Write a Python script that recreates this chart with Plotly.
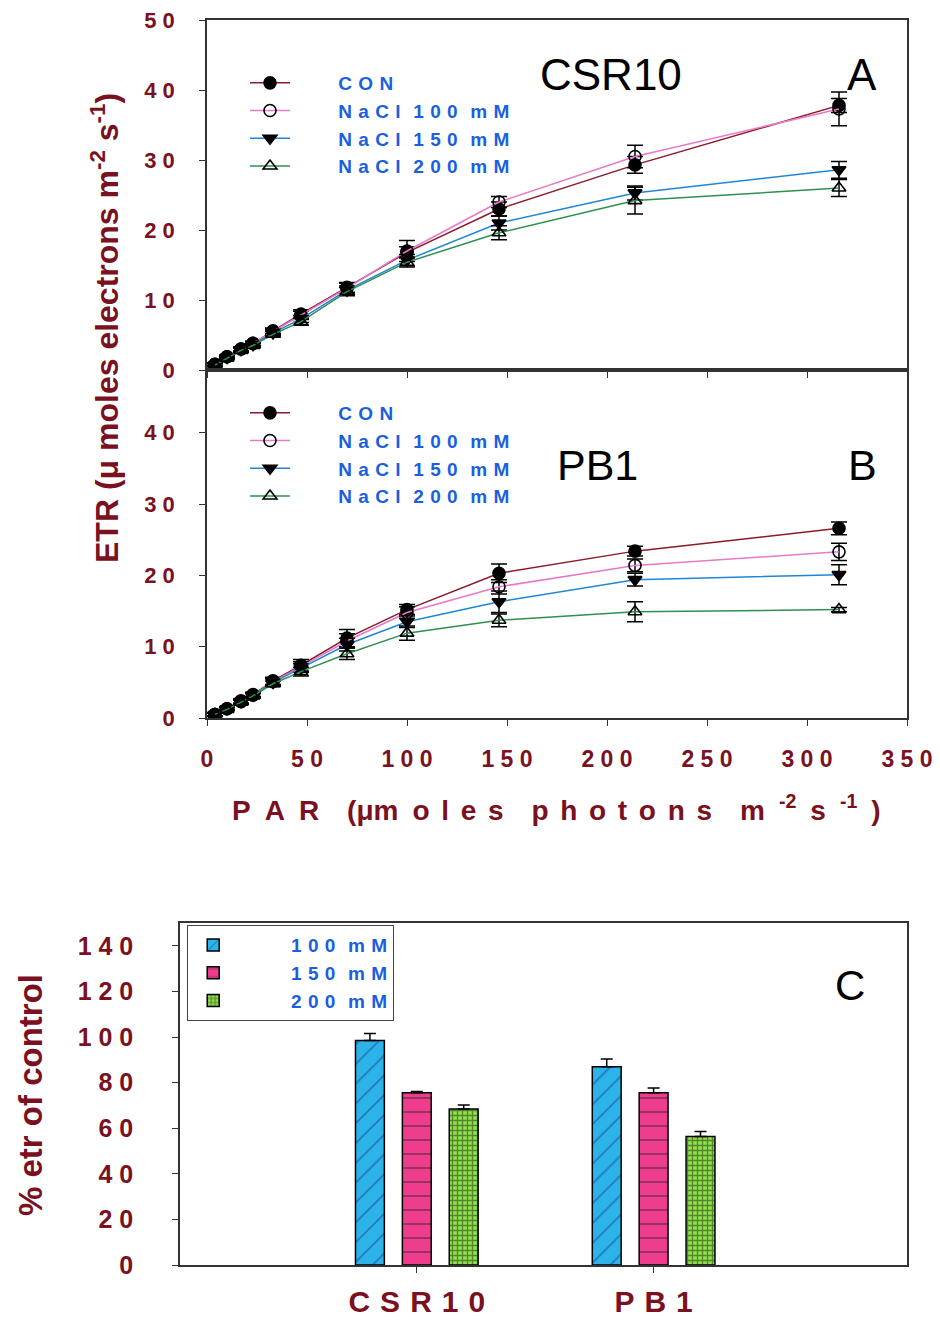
import plotly.graph_objects as go

# ---------------- data ----------------
PAR = [4, 10, 17, 23, 33, 47, 70, 100, 146, 214, 316]

series_names = ["CON", "NaCl 100 mM", "NaCl 150 mM", "NaCl 200 mM"]

A_con = [0.8, 1.9, 3.0, 3.8, 5.6, 8.0, 11.8, 16.8, 23.0, 29.3, 37.8]
A_100 = [0.8, 1.9, 3.0, 3.8, 5.5, 7.8, 11.7, 17.0, 24.0, 30.5, 37.3]
A_150 = [0.7, 1.8, 2.9, 3.6, 5.3, 7.3, 11.4, 15.7, 21.0, 25.3, 28.6]
A_200 = [0.7, 1.7, 2.8, 3.5, 5.1, 6.9, 11.2, 15.4, 19.6, 24.2, 26.0]
A_con_err = [0.2, 0.2, 0.3, 0.3, 0.4, 0.6, 0.7, 0.8, 1.0, 1.2, 1.0]
A_100_err = [0.2, 0.2, 0.3, 0.3, 0.4, 0.6, 0.7, 1.5, 0.8, 1.6, 2.4]
A_150_err = [0.2, 0.2, 0.3, 0.3, 0.4, 0.5, 0.6, 0.8, 1.0, 1.0, 1.2]
A_200_err = [0.2, 0.2, 0.3, 0.3, 0.4, 0.5, 0.6, 0.7, 1.0, 1.9, 1.2]

B_con = [0.5, 1.3, 2.4, 3.3, 5.2, 7.4, 11.2, 15.2, 20.3, 23.4, 26.6]
B_100 = [0.5, 1.3, 2.3, 3.2, 5.1, 7.2, 10.8, 14.8, 18.4, 21.4, 23.3]
B_150 = [0.5, 1.3, 2.3, 3.2, 5.0, 7.0, 10.3, 13.5, 16.3, 19.4, 20.1]
B_200 = [0.5, 1.2, 2.2, 3.1, 4.8, 6.5, 9.0, 11.9, 13.7, 14.9, 15.2]
B_con_err = [0.2, 0.2, 0.3, 0.3, 0.5, 0.8, 1.2, 0.7, 1.3, 0.7, 0.9]
B_100_err = [0.2, 0.2, 0.3, 0.3, 0.5, 0.7, 1.0, 0.8, 1.0, 0.9, 1.2]
B_150_err = [0.2, 0.2, 0.3, 0.3, 0.5, 0.6, 0.9, 0.8, 1.5, 0.9, 1.4]
B_200_err = [0.2, 0.2, 0.3, 0.3, 0.4, 0.6, 0.8, 1.0, 0.9, 1.4, 0.3]

cultivars = ["CSR10", "PB1"]
bar_names = ["100 mM", "150 mM", "200 mM"]
pct_100 = [98.5, 87.0]
pct_150 = [75.6, 75.6]
pct_200 = [68.4, 56.4]
pct_100_err = [3.0, 3.3]
pct_150_err = [0.5, 2.0]
pct_200_err = [1.8, 2.2]

x_tickvals = [0, 50, 100, 150, 200, 250, 300, 350]
yA_tickvals = [0, 10, 20, 30, 40, 50]
yB_tickvals = [0, 10, 20, 30, 40]
yC_tickvals = [0, 20, 40, 60, 80, 100, 120, 140]

# ---------------- styles ----------------
FONT = "Liberation Sans, Arial, sans-serif"
MAROON = "#7a1020"
BLUE = "#1a5fe0"
line_colors = ["#8b1a2a", "#e878c8", "#1f86d6", "#2e9050"]
symbols = ["circle", "circle-open", "triangle-down", "triangle-up-open"]
EN = "\u2002"
T3 = "\u2004"
HAIR = "\u200a"


def spaced(s, sep=" "):
    """Letter-spaced look of the original figure: 'NaCl 100' -> 'N a C l  1 0 0'."""
    words = s.split(" ")
    return (sep + sep).join(sep.join(w) for w in words)


def tick_spaced(v):
    return " ".join(str(v))


fig = go.Figure()


def add_panel(xa, ya, legend, ys, errs):
    for i, (y, e) in enumerate(zip(ys, errs)):
        fig.add_trace(go.Scatter(
            x=PAR, y=y, name=EN * 4 + "\u00a0" + spaced(series_names[i], T3),
            mode="lines+markers", xaxis=xa, yaxis=ya, legend=legend,
            line=dict(color=line_colors[i], width=1.5),
            marker=dict(symbol=symbols[i], size=12, color="black",
                        line=dict(color="black", width=1.6)),
            error_y=dict(type="data", array=e, color="black", thickness=1.5, width=8),
        ))


add_panel("x", "y", "legend", [A_con, A_100, A_150, A_200],
          [A_con_err, A_100_err, A_150_err, A_200_err])
add_panel("x2", "y2", "legend2", [B_con, B_100, B_150, B_200],
          [B_con_err, B_100_err, B_150_err, B_200_err])

bar_colors = ["#2bb3ea", "#ef3d8e", "#8fe04a"]
patterns = [
    dict(shape="/", fgcolor="#1a3d80", bgcolor="#2bb3ea", size=14, solidity=0.12),
    dict(shape="-", fgcolor="#222222", bgcolor="#ef3d8e", size=14, solidity=0.12),
    dict(shape="+", fgcolor="#1a2a10", bgcolor="#8fe04a", size=5, solidity=0.45),
]
for name, vals, errs, col, pat in zip(bar_names, [pct_100, pct_150, pct_200],
                                      [pct_100_err, pct_150_err, pct_200_err],
                                      bar_colors, patterns):
    fig.add_trace(go.Bar(
        x=cultivars, y=vals, name=EN * 5 + "\u00a0" + spaced(name, T3),
        xaxis="x3", yaxis="y3", legend="legend3",
        marker=dict(color=col, pattern=pat, line=dict(color="black", width=1.5)),
        error_y=dict(type="data", array=errs, symmetric=False, arrayminus=[0, 0],
                     color="black", thickness=1.5, width=6),
    ))

tickfont = dict(family=FONT, size=22, color=MAROON, weight="bold")
common_axis = dict(showline=True, linecolor="#333333", linewidth=1.5, mirror=True,
                   ticks="outside", ticklen=6, tickcolor="#333333", tickwidth=1.2,
                   showgrid=False, zeroline=False, tickfont=tickfont, automargin=False)

H = 1320.0
W = 940.0
xdom = [207 / W, 907 / W]
legfont = dict(family=FONT, size=19, color=BLUE, weight="bold")
fig.update_layout(
    width=940, height=1320,
    margin=dict(l=0, r=0, t=0, b=0, pad=0, autoexpand=False),
    paper_bgcolor="white", plot_bgcolor="white",
    font=dict(family=FONT),
    barmode="group", bargap=0.406, bargroupgap=0.384,
    xaxis=dict(domain=xdom, anchor="y", range=[0, 350], tickvals=x_tickvals,
               showticklabels=False, **common_axis),
    yaxis=dict(domain=[1 - 370 / H, 1 - 20 / H], anchor="x", range=[0, 50],
               tickvals=yA_tickvals, ticktext=[tick_spaced(v) for v in yA_tickvals],
               ticklabelstandoff=20, **common_axis),
    xaxis2=dict(domain=xdom, anchor="y2", range=[0, 350], tickvals=x_tickvals,
                ticktext=[tick_spaced(v) for v in x_tickvals], ticklabelstandoff=14,
                **{**common_axis, "tickfont": dict(family=FONT, size=23, color=MAROON, weight="bold")}),
    yaxis2=dict(domain=[1 - 718 / H, 1 - 370 / H], anchor="x2", range=[0, 48.8],
                tickvals=yB_tickvals, ticktext=[tick_spaced(v) for v in yB_tickvals],
                ticklabelstandoff=20, **common_axis),
    xaxis3=dict(domain=[180 / W, 907 / W], anchor="y3", range=[-1.0, 2.07],
                tickvals=cultivars, ticktext=[spaced(c, T3) for c in cultivars],
                ticklabelstandoff=3,
                **{**common_axis, "tickfont": dict(family=FONT, size=30, color=MAROON, weight="bold")}),
    yaxis3=dict(domain=[1 - 1265 / H, 1 - 923 / H], anchor="x3", range=[0, 150],
                tickvals=yC_tickvals, ticktext=[tick_spaced(v) for v in yC_tickvals],
                ticklabelstandoff=34,
                **{**common_axis, "tickfont": dict(family=FONT, size=25, color=MAROON, weight="bold")}),
    legend=dict(x=245 / W, y=1 - 64 / H, xanchor="left", yanchor="top",
                bgcolor="rgba(0,0,0,0)", font=legfont, itemwidth=40, tracegroupgap=0),
    legend2=dict(x=245 / W, y=1 - 394 / H, xanchor="left", yanchor="top",
                 bgcolor="rgba(0,0,0,0)", font=legfont, itemwidth=40, tracegroupgap=0),
    legend3=dict(x=187 / W, y=1 - 925 / H, xanchor="left", yanchor="top",
                 bgcolor="white", bordercolor="#444444", borderwidth=1.2,
                 font=legfont, itemwidth=40, tracegroupgap=0),
    showlegend=True,
)

annots = [
    dict(text="CSR10", x=611 / W, y=1 - 75 / H, size=44),
    dict(text="A", x=862 / W, y=1 - 75 / H, size=44),
    dict(text="PB1", x=597 / W, y=1 - 465 / H, size=43),
    dict(text="B", x=862 / W, y=1 - 465 / H, size=43),
    dict(text="C", x=850 / W, y=1 - 985 / H, size=42),
]
for a in annots:
    fig.add_annotation(text=a["text"], x=a["x"], y=a["y"], xref="paper", yref="paper",
                       showarrow=False, xanchor="center", yanchor="middle",
                       font=dict(family=FONT, size=a["size"], color="black"))

fig.add_annotation(text="ETR (μ moles electrons m<sup>-2</sup> s<sup>-1</sup>)",
                   x=105 / W, y=1 - 328 / H, xref="paper", yref="paper", showarrow=False,
                   textangle=-90, xanchor="center", yanchor="middle",
                   font=dict(family=FONT, size=32, color=MAROON, weight="bold"))
t = T3 + HAIR
xtitle = (EN.join("PAR") + EN + EN + "(μm" + EN + t.join("oles") + EN + EN
          + t.join("photons") + EN + EN + "m" + EN + "<sup>-2</sup>" + EN + "s" + EN
          + "<sup>-1</sup>" + EN + ")")
fig.add_annotation(text=xtitle,
                   x=556 / W, y=1 - 808 / H, xref="paper", yref="paper", showarrow=False,
                   xanchor="center", yanchor="middle",
                   font=dict(family=FONT, size=28, color=MAROON, weight="bold"))
fig.add_annotation(text="% etr of control",
                   x=30 / W, y=1 - 1095 / H, xref="paper", yref="paper", showarrow=False,
                   textangle=-90, xanchor="center", yanchor="middle",
                   font=dict(family=FONT, size=33, color=MAROON, weight="bold"))

fig.write_html("out.html")
